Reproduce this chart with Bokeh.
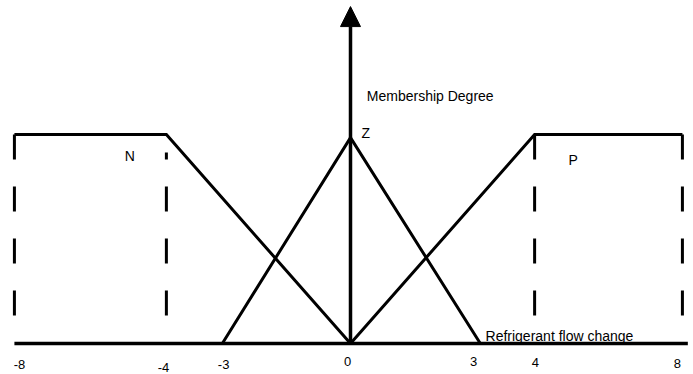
from bokeh.plotting import figure
from bokeh.models import Range1d, Arrow, NormalHead
from bokeh.embed import file_html
from bokeh.resources import INLINE
from bokeh.core.properties import value

# ---- data -------------------------------------------------------------
tick_labels = ["-8", "-4", "-3", "0", "3", "4", "8"]
# where each breakpoint sits along the (schematic, non-uniform) drawn axis
tick_pos = [-8.05, -4.41, -3.07, 0.0, 3.11, 4.41, 7.95]
label_pos = [-7.93, -4.48, -3.04, -0.07, 2.95, 4.43, 7.83]
label_y = [-0.100, -0.115, -0.100, -0.086, -0.086, -0.091, -0.096]

# membership functions: N (trapezoid), Z (triangle), P (trapezoid)
n_x = [tick_pos[0], tick_pos[1], tick_pos[3]]
n_y = [1.0, 1.0, 0.0]
z_x = [tick_pos[2], tick_pos[3], tick_pos[4]]
z_y = [0.0, 0.985, 0.0]
p_x = [tick_pos[3], tick_pos[5], tick_pos[6]]
p_y = [0.0, 1.0, 1.0]

# dashed guide lines under the flat tops
guide_x = [tick_pos[0], tick_pos[1], tick_pos[5], tick_pos[6]]
guide_y0 = [0.134, 0.134, 0.134, 0.134]
guide_y1 = [1.0, 0.914, 1.0, 1.0]

set_names = ["N", "Z", "P"]
set_x = [-5.41, 0.263, 5.22]
set_y = [0.895, 1.005, 0.876]

axis_titles = ["Membership Degree", "Refrigerant flow change"]
axis_title_x = [0.39, 3.234]
axis_title_y = [1.1866, 0.0335]

base_x = [-8.05, 8.08]
arrow_top = 1.612

# ---- figure -----------------------------------------------------------
p = figure(width=693, height=374, output_backend="svg", toolbar_location=None,
           x_axis_type=None, y_axis_type=None, min_border=0,
           x_range=Range1d(-8.3832, 8.2156), y_range=Range1d(-0.14833, 1.64115))
p.outline_line_color = None
p.grid.visible = False
p.background_fill_color = "white"
p.border_fill_color = "white"

FONT = value("Liberation Sans")

# baseline
p.line(base_x, [0, 0], line_color="black", line_width=3.5)

# membership function lines
for xs, ys in ((n_x, n_y), (z_x, z_y), (p_x, p_y)):
    p.line(xs, ys, line_color="black", line_width=3, line_join="miter")

# dashed verticals
p.segment(x0=guide_x, y0=guide_y0, x1=guide_x, y1=guide_y1,
          line_color="black", line_width=3, line_dash="25 27")

# vertical axis arrow
p.add_layout(Arrow(end=NormalHead(size=20, fill_color="black", line_color="black", line_width=1),
                   x_start=0, y_start=0, x_end=0, y_end=arrow_top,
                   line_color="black", line_width=3.5))

# texts
p.text(x=set_x, y=set_y, text=set_names, text_font=FONT, text_font_size="14px",
       text_color="black", text_baseline="alphabetic", text_align="left")
p.text(x=axis_title_x, y=axis_title_y, text=axis_titles, text_font=FONT,
       text_font_size="14px", text_color="black", text_baseline="alphabetic",
       text_align="left")
p.text(x=label_pos, y=label_y, text=tick_labels, text_font=FONT,
       text_font_size="13px", text_color="black", text_baseline="alphabetic",
       text_align="center")

open("out.html", "w").write(file_html(p, INLINE))
